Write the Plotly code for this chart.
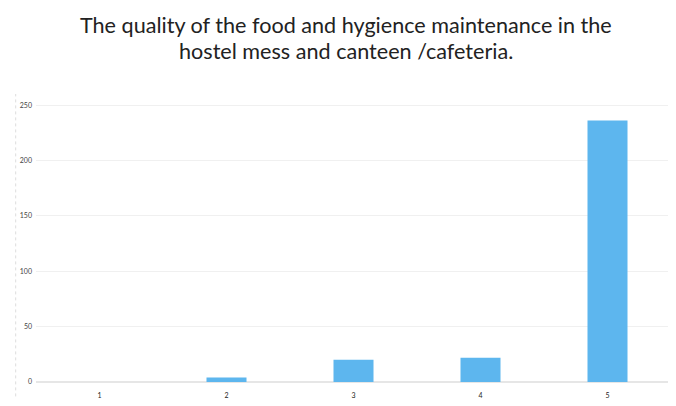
import plotly.graph_objects as go

categories = ["1", "2", "3", "4", "5"]
values = [0, 4, 20, 22, 236]
y_ticks = [0, 50, 100, 150, 200, 250]
title_lines = ["The quality of the food and hygience maintenance in the",
               "hostel mess and canteen /cafeteria."]

fig = go.Figure(go.Bar(
    x=categories, y=values,
    marker=dict(color="#5DB6EE", line=dict(width=0)),
))

fig.update_layout(
    width=676, height=406,
    paper_bgcolor="white", plot_bgcolor="white",
    margin=dict(l=28, r=13, t=86, b=32),
    bargap=0.685,
    showlegend=False,
    font=dict(family="Lato, sans-serif"),
)
for i, line in enumerate(title_lines):
    fig.add_annotation(
        text=line, xref="paper", yref="paper", x=0.488, xanchor="center",
        y=1.24 - i * 0.092, yanchor="middle", showarrow=False,
        font=dict(family="Lato, Open Sans, sans-serif", size=21.6, color="#222222"),
    )
fig.update_xaxes(
    type="category", showgrid=False, showline=False, zeroline=False,
    tickfont=dict(size=7, color="#222222"), ticks="", ticklabelstandoff=8,
)
fig.update_yaxes(
    range=[0, 260], tickvals=y_ticks, showgrid=True, gridcolor="#F0F0F0",
    zeroline=True, zerolinecolor="#E6E6E6", showline=False,
    tickfont=dict(size=7, color="#444444"), ticks="", ticklabelstandoff=3,
)
fig.add_shape(type="line", xref="paper", yref="paper", x0=-0.032, x1=-0.032, y0=-0.05, y1=1.0,
              line=dict(color="#DDDDDD", width=1, dash="dot"))

fig.write_html("out.html")
